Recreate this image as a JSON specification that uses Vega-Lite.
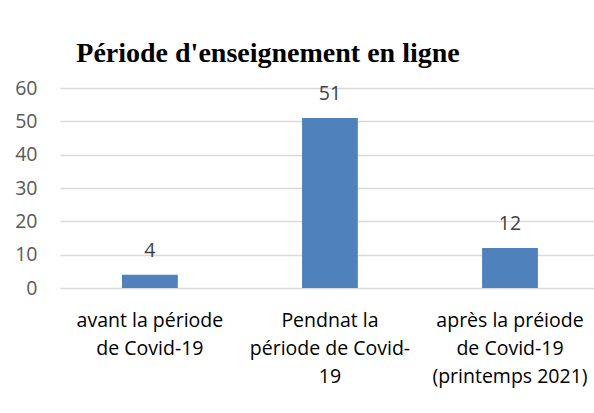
{
  "$schema": "https://vega.github.io/schema/vega-lite/v6.json",
  "width": 534,
  "height": 200,
  "autosize": {"type": "none"},
  "padding": {"left": 60, "top": 88, "right": 0, "bottom": 125},
  "background": "white",
  "title": {
    "text": "Période d'enseignement en ligne",
    "font": "Liberation Serif",
    "fontSize": 28,
    "fontWeight": "bold",
    "color": "black",
    "anchor": "middle",
    "frame": "group",
    "dx": -59,
    "offset": 10
  },
  "data": {
    "values": [
      {"periode": "avant la période de Covid-19", "valeur": 4},
      {"periode": "Pendnat la période de Covid-19", "valeur": 51},
      {"periode": "après la préiode de Covid-19 (printemps 2021)", "valeur": 12}
    ]
  },
  "encoding": {
    "x": {
      "field": "periode",
      "type": "nominal",
      "sort": null,
      "scale": {"paddingInner": 0.69, "paddingOuter": 0.328, "align": 0.525},
      "axis": {
        "title": null,
        "labelAngle": 0,
        "domain": false,
        "ticks": false,
        "labelPadding": 23,
        "labelFont": "Open Sans",
        "labelFontSize": 19.5,
        "labelColor": "black",
        "labelLineHeight": 28,
        "labelLimit": 0,
        "labelExpr": "datum.value == 'avant la période de Covid-19' ? ['avant la période', 'de Covid-19'] : datum.value == 'Pendnat la période de Covid-19' ? ['Pendnat la', 'période de Covid-', '19'] : ['après la préiode', 'de Covid-19', '(printemps 2021)']"
      }
    },
    "y": {
      "field": "valeur",
      "type": "quantitative",
      "scale": {"domain": [0, 60]},
      "axis": {
        "title": null,
        "values": [0, 10, 20, 30, 40, 50, 60],
        "domain": false,
        "ticks": false,
        "labelPadding": 23,
        "labelFont": "Open Sans",
        "labelFontSize": 19.5,
        "labelColor": "#595959",
        "gridColor": "#D9D9D9",
        "gridWidth": 1.3
      }
    }
  },
  "layer": [
    {"mark": {"type": "bar", "color": "#4F81BD"}},
    {
      "mark": {"type": "text", "baseline": "bottom", "dy": -14, "font": "Open Sans", "fontSize": 19.5, "color": "#404040"},
      "encoding": {"text": {"field": "valeur", "type": "quantitative"}}
    }
  ],
  "config": {"view": {"stroke": null}}
}
